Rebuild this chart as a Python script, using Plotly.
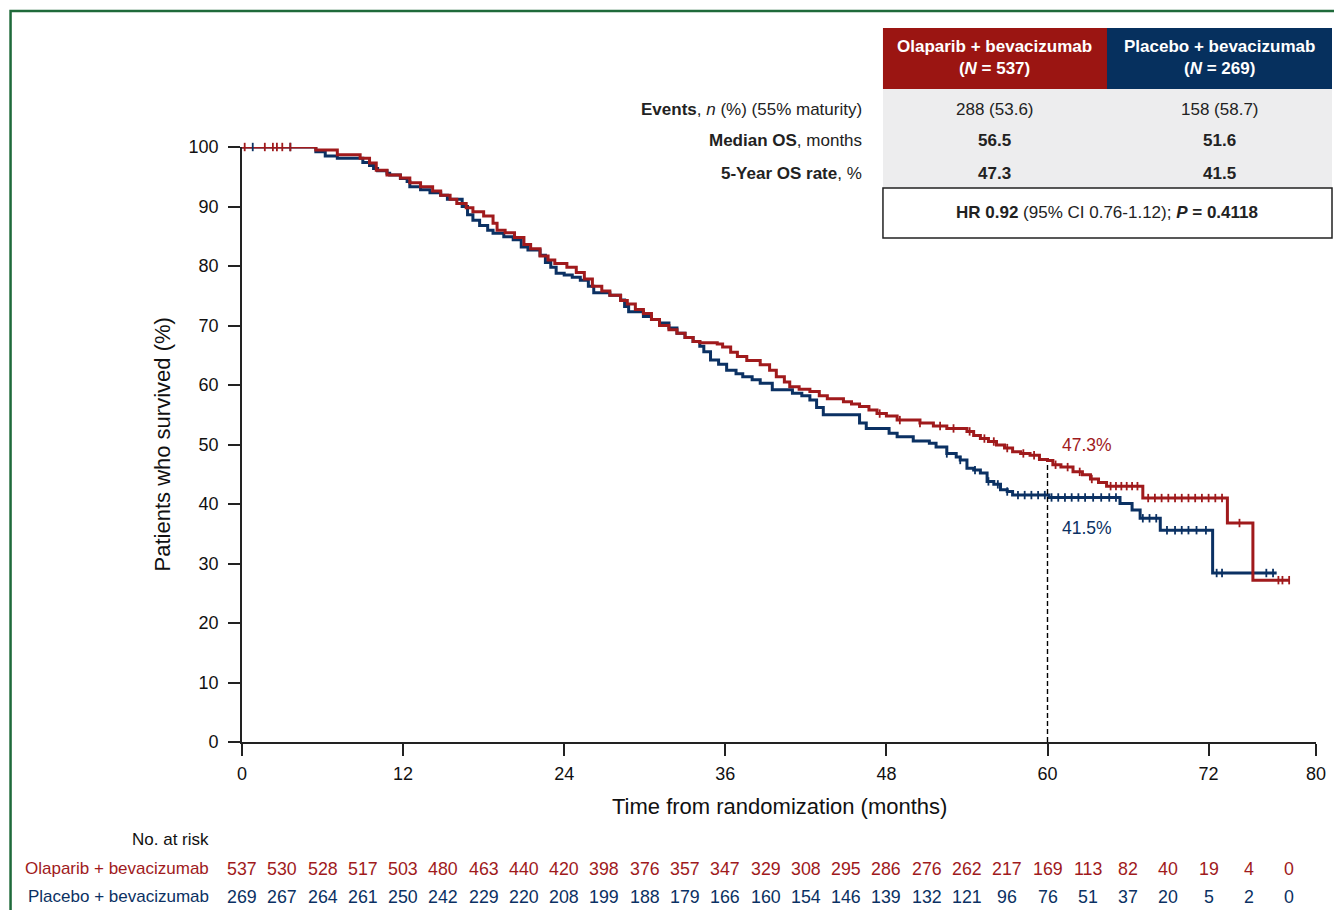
import numpy as np
import plotly.graph_objects as go

RED = "#A01A1C"
BLUE = "#0B3163"
HEAD_RED = "#9B1512"
HEAD_BLUE = "#06305E"
FONT = "Liberation Sans, Arial, Helvetica, sans-serif"

# Kaplan-Meier step data (months, % surviving)
ola_t = [0, 5.5, 7.1, 8.8, 9.5, 10.0, 10.8, 11.8, 12.5, 13.3, 14.2, 14.8, 15.5, 16.0, 16.7,
         17.2, 18.0, 18.7, 19.0, 19.6, 20.3, 21.0, 21.5, 22.2, 22.8, 23.3, 24.2, 24.9, 25.5,
         26.1, 26.8, 27.4, 28.2, 28.7, 29.3, 29.9, 30.5, 31.1, 31.8, 32.4, 33.0, 33.6, 34.1,
         35.4, 35.8, 36.4, 36.9, 37.6, 38.6, 39.3, 39.8, 40.4, 40.8, 41.5, 42.3, 43.0, 43.6,
         44.8, 45.4, 46.0, 46.7, 47.3, 48.0, 48.8, 50.5, 51.5, 52.5, 54.0, 54.5, 55.0, 55.6,
         56.2, 56.8, 57.4, 58.0, 58.7, 59.4, 60.0, 60.4, 61.0, 61.9, 62.6, 63.2, 63.8, 64.4,
         67.1, 73.4, 75.3, 78.06]
ola_s = [100, 99.5, 98.7, 98.1, 97.3, 96.1, 95.3, 94.8, 94.0, 93.3, 92.6, 91.9, 91.2, 90.5, 89.8,
         89.1, 88.4, 87.2, 86.0, 85.6, 84.8, 83.6, 82.9, 81.7, 81.0, 80.4, 79.8, 78.9, 77.8,
         76.6, 75.8, 75.1, 74.2, 73.6, 72.7, 72.0, 71.0, 70.0, 69.3, 68.7, 68.0, 67.3, 67.1,
         66.9, 66.4, 65.5, 64.8, 64.1, 63.4, 62.5, 61.4, 60.5, 59.7, 59.3, 58.9, 58.2, 57.7,
         57.2, 56.8, 56.4, 55.8, 55.2, 54.8, 54.1, 53.6, 53.1, 52.7, 52.2, 51.5, 51.0, 50.5,
         49.9, 49.4, 48.8, 48.5, 48.2, 47.5, 47.3, 46.6, 46.2, 45.4, 44.9, 44.2, 43.6, 43.0,
         41.0, 36.8, 27.2, 27.2]

pla_t = [0, 5.5, 6.2, 7.1, 9.0, 9.5, 9.8, 10.1, 10.8, 11.0, 11.8, 12.3, 12.5, 13.3, 14.0, 14.8,
         15.3, 16.4, 16.8, 17.2, 17.7, 18.3, 18.7, 19.5, 20.2, 20.8, 21.3, 22.2, 22.6, 23.0,
         23.4, 24.0, 24.6, 25.2, 25.8, 26.2, 27.4, 28.2, 28.5, 28.8, 29.9, 30.5, 31.1, 31.8,
         32.4, 33.0, 33.6, 34.1, 34.4, 34.9, 35.5, 36.1, 36.8, 37.3, 38.0, 38.6, 39.5, 41.0,
         41.7, 42.3, 42.8, 43.3, 46.0, 46.5, 48.2, 48.8, 50.0, 51.2, 51.7, 52.5, 53.2, 53.5,
         54.0, 54.5, 55.0, 55.5, 56.0, 56.5, 57.0, 57.4, 60.1, 65.4, 66.3, 66.9, 68.4, 72.3,
         77.07]
pla_s = [100, 99.2, 98.5, 98.1, 97.4, 96.9, 96.4, 96.0, 95.6, 95.3, 94.7, 94.2, 93.3, 92.8, 92.3, 91.9,
         91.2, 90.0, 88.6, 87.7, 86.8, 86.0, 85.5, 84.9, 84.4, 83.2, 82.7, 81.8, 80.6, 79.8,
         78.8, 78.5, 78.1, 77.6, 76.6, 75.5, 75.1, 74.3, 73.2, 72.3, 71.5, 71.0, 70.4, 69.6,
         68.7, 68.0, 67.3, 66.5, 65.6, 64.2, 63.5, 62.5, 61.9, 61.4, 60.9, 60.3, 59.2, 58.6,
         58.2, 57.5, 56.2, 55.0, 53.6, 52.7, 51.9, 51.3, 50.6, 50.2, 49.6, 48.5, 47.9, 47.4,
         46.0, 45.7, 45.2, 43.8, 43.3, 42.4, 42.1, 41.5, 41.1, 40.1, 39.0, 37.6, 35.6, 28.4,
         28.4]

# Censoring times (months)
ola_cens = [0.2, 1.7, 2.3, 2.6, 3.0, 3.6, 47.5, 49.0, 50.5, 52.0, 53.0, 54.2, 55.3, 56.0, 57.0,
            58.2, 59.0, 60.6, 61.5, 62.4, 63.3, 64.7, 65.1, 65.5, 65.9, 66.3, 66.7, 67.5, 68.0,
            68.5, 69.0, 69.5, 70.0, 70.5, 71.0, 71.5, 72.0, 72.5, 73.0, 74.3, 77.2, 77.5, 78.0]
pla_cens = [0.8, 3.6, 52.5, 53.5, 54.6, 55.6, 56.3, 57.0, 57.8, 58.3, 58.8, 59.3, 59.8, 60.3,
            60.8, 61.3, 61.8, 62.3, 62.8, 63.4, 64.0, 64.6, 65.1, 67.1, 67.6, 68.1, 68.9, 69.5,
            70.0, 70.5, 71.1, 71.8, 72.6, 73.0, 76.3, 76.8]

# Numbers at risk (every 3 months, 0-78)
risk_times = list(range(0, 79, 3))
ola_risk = [537, 530, 528, 517, 503, 480, 463, 440, 420, 398, 376, 357, 347, 329, 308, 295, 286,
            276, 262, 217, 169, 113, 82, 40, 19, 4, 0]
pla_risk = [269, 267, 264, 261, 250, 242, 229, 220, 208, 199, 188, 179, 166, 160, 154, 146, 139,
            132, 121, 96, 76, 51, 37, 20, 5, 2, 0]

x_ticks = [0, 12, 24, 36, 48, 60, 72, 80]
y_ticks = list(range(0, 101, 10))

arm_names = ["Olaparib + bevacizumab", "Placebo + bevacizumab"]
arm_n = [537, 269]
events = ["288 (53.6)", "158 (58.7)"]
median_os = ["56.5", "51.6"]
rate_5y = ["47.3", "41.5"]
landmark = 60


def step_value(ts, ss, t):
    idx = np.searchsorted(np.asarray(ts), np.asarray(t), side="right") - 1
    return np.asarray(ss)[idx]


def ann(x, y, text, color="#222", size=17, xref="paper", yref="paper", xanchor="center", **kw):
    return dict(x=x, y=y, xref=xref, yref=yref, text=text, showarrow=False,
                xanchor=xanchor, yanchor="middle",
                font=dict(size=size, color=color, family=FONT), **kw)


fig = go.Figure()

for ts, ss, col, name in [(pla_t, pla_s, BLUE, arm_names[1]), (ola_t, ola_s, RED, arm_names[0])]:
    fig.add_trace(go.Scatter(x=ts, y=ss, mode="lines", line=dict(color=col, width=3, shape="hv"),
                             name=name, showlegend=False, cliponaxis=False, hoverinfo="skip"))

for cens, ts, ss, col in [(pla_cens, pla_t, pla_s, BLUE), (ola_cens, ola_t, ola_s, RED)]:
    fig.add_trace(go.Scatter(x=cens, y=step_value(ts, ss, cens), mode="markers",
                             marker=dict(symbol="line-ns-open", size=6, color=col,
                                         line=dict(color=col, width=1.8)),
                             showlegend=False, cliponaxis=False, hoverinfo="skip"))

# landmark dashed line
lm_y = float(step_value(ola_t, ola_s, [landmark])[0])
fig.add_trace(go.Scatter(x=[landmark, landmark], y=[0, lm_y - 0.6], mode="lines",
                         line=dict(color="black", width=1.4, dash="5px,3px"),
                         showlegend=False, hoverinfo="skip"))

annotations = []
annotations.append(ann(landmark + 0.9, 50.0, rate_5y[0] + "%", color=RED, xref="x", yref="y",
                       xanchor="left", size=17.5))
annotations.append(ann(landmark + 0.9, 35.9, rate_5y[1] + "%", color=BLUE, xref="x", yref="y",
                       xanchor="left", size=17.5))

# axis titles
annotations.append(ann(0.5, -0.1092, "Time from randomization (months)", color="#111", size=22))
annotations.append(ann(-0.0736, 0.5, "Patients who survived (%)", color="#111", size=22, textangle=-90))

# at-risk table
annotations.append(ann(-0.0288, -0.1647, "No. at risk", color="#111", xanchor="right"))
for name, col, yy in [(arm_names[0], RED, -0.2134), (arm_names[1], BLUE, -0.2605)]:
    annotations.append(ann(-0.0288, yy, name, color=col, xanchor="right"))
for t, a, b in zip(risk_times, ola_risk, pla_risk):
    annotations.append(ann(t, -0.2134, str(a), color=RED, xref="x", size=17.8))
    annotations.append(ann(t, -0.2605, str(b), color=BLUE, xref="x", size=17.8))

# summary table (paper coordinates)
x0, xm, x1 = 0.5968, 0.8054, 1.0149
y_top, y_head, y_gray, y_bot = 1.2, 1.0975, 0.9311, 0.8471
shapes = [
    dict(type="rect", xref="paper", yref="paper", x0=x0, x1=xm, y0=y_head, y1=y_top,
         fillcolor=HEAD_RED, line=dict(width=0), layer="below"),
    dict(type="rect", xref="paper", yref="paper", x0=xm, x1=x1, y0=y_head, y1=y_top,
         fillcolor=HEAD_BLUE, line=dict(width=0), layer="below"),
    dict(type="rect", xref="paper", yref="paper", x0=x0, x1=x1, y0=y_gray, y1=y_head,
         fillcolor="#EDEDEE", line=dict(width=0), layer="below"),
    dict(type="rect", xref="paper", yref="paper", x0=x0, x1=x1, y0=y_bot, y1=y_gray,
         fillcolor="white", line=dict(width=1.5, color="#222")),
    # outer green frame
    dict(type="rect", xref="paper", yref="paper", x0=-0.2155, x1=1.03, y0=-0.30, y1=1.2286,
         fillcolor="rgba(0,0,0,0)", line=dict(width=2.5, color="#1F6A3A")),
]

cx = [(x0 + xm) / 2, (xm + x1) / 2]
for i in range(2):
    annotations.append(ann(cx[i], 1.1496, f"<b>{arm_names[i]}<br>(<i>N</i> = {arm_n[i]})</b>", color="white"))
    annotations.append(ann(cx[i], 1.0622, events[i]))
    annotations.append(ann(cx[i], 1.0101, f"<b>{median_os[i]}</b>"))
    annotations.append(ann(cx[i], 0.9563, f"<b>{rate_5y[i]}</b>"))

row_labels = ["<b>Events</b>, <i>n</i> (%) (55% maturity)", "<b>Median OS</b>, months",
              "<b>5-Year OS rate</b>, %"]
for lab, yy in zip(row_labels, [1.0622, 1.0101, 0.9563]):
    annotations.append(ann(0.5791, yy, lab, xanchor="right"))
annotations.append(ann((x0 + x1) / 2, 0.8891,
                       "<b>HR 0.92</b> (95% CI 0.76-1.12); <b><i>P</i> = 0.4118</b>"))

axis_common = dict(ticks="outside", ticklen=12, tickwidth=1.8, tickcolor="#222", showline=True,
                   linecolor="#222", linewidth=1.8, showgrid=False, zeroline=False,
                   tickfont=dict(size=18, color="#111", family=FONT))
fig.update_layout(
    width=1334, height=910,
    margin=dict(l=242, r=18, t=147, b=168, autoexpand=False),
    paper_bgcolor="white", plot_bgcolor="white",
    font=dict(family=FONT, size=17, color="#111"),
    annotations=annotations, shapes=shapes,
    xaxis=dict(range=[0, 80], tickvals=x_ticks, ticklabelstandoff=2, **axis_common),
    yaxis=dict(range=[0, 100], tickvals=y_ticks, ticklabelstandoff=6, **axis_common),
)

fig.write_html("out.html", config={"displayModeBar": False},
               post_script="document.body.style.margin='0';document.body.style.overflow='hidden';")
